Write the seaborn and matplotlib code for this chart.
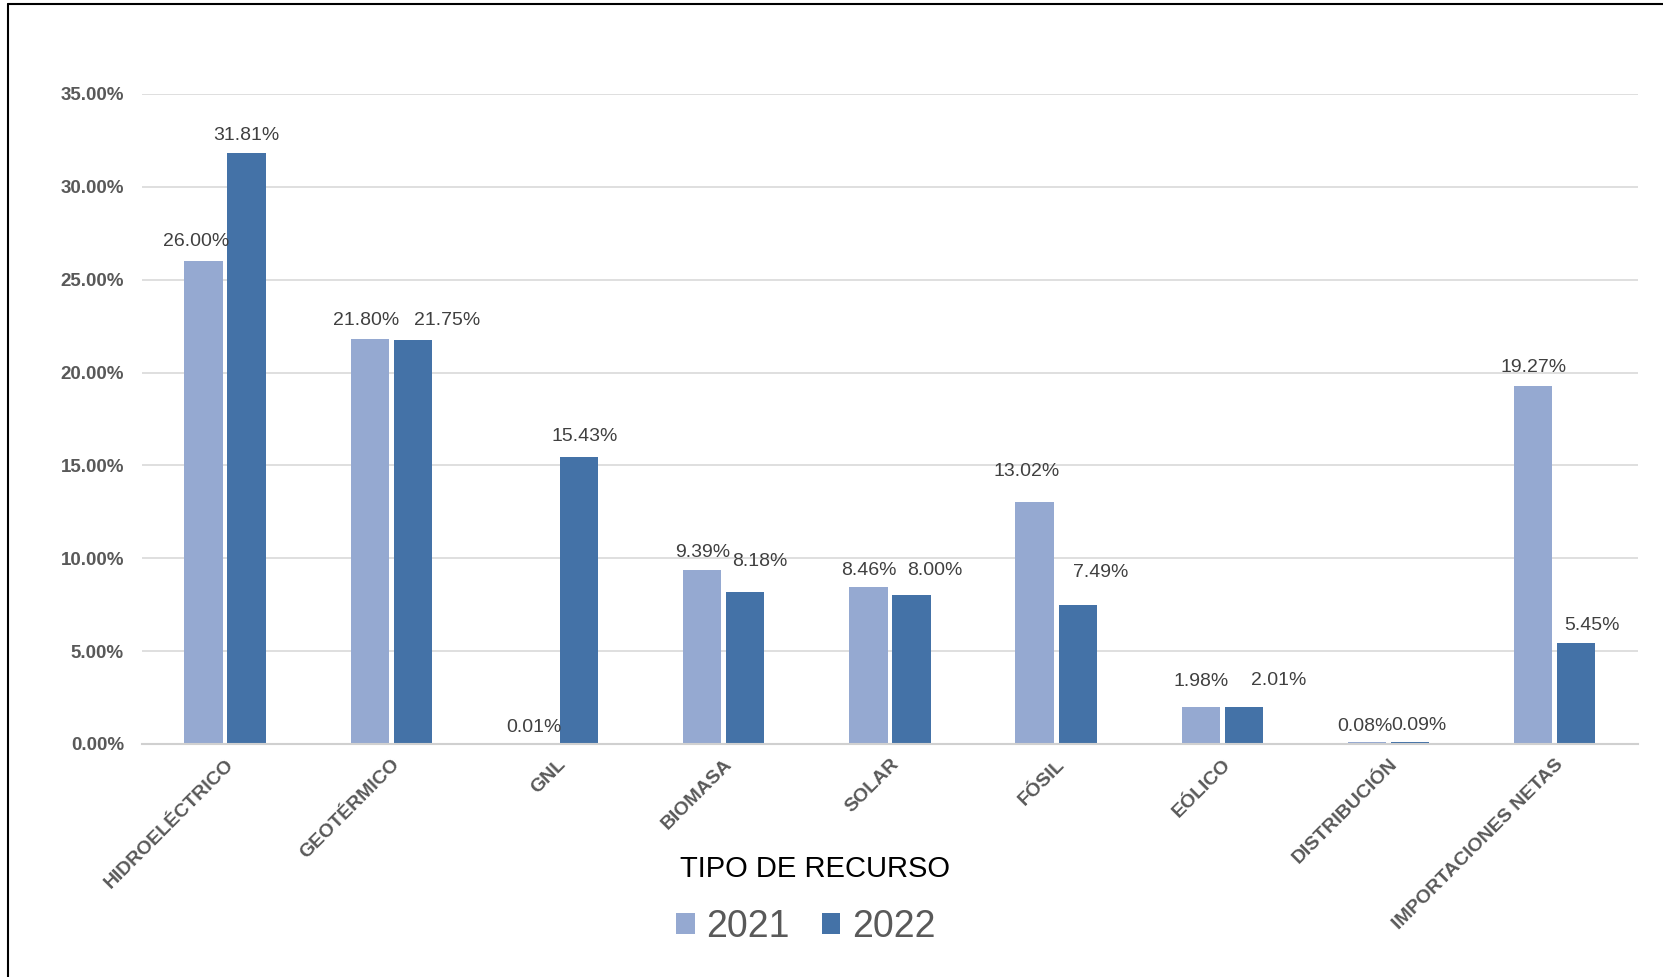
import matplotlib
matplotlib.use("Agg")
import matplotlib.pyplot as plt
import matplotlib.patches as mpatches
import matplotlib.lines as mlines
import seaborn as sns
import pandas as pd

categories = ["HIDROELÉCTRICO", "GEOTÉRMICO", "GNL", "BIOMASA", "SOLAR",
              "FÓSIL", "EÓLICO", "DISTRIBUCIÓN", "IMPORTACIONES NETAS"]
values_2021 = [26.00, 21.80, 0.01, 9.39, 8.46, 13.02, 1.98, 0.08, 19.27]
values_2022 = [31.81, 21.75, 15.43, 8.18, 8.00, 7.49, 2.01, 0.09, 5.45]
series = ["2021", "2022"]
yticks = [0, 5, 10, 15, 20, 25, 30, 35]
colors = {"2021": "#95A9D1", "2022": "#4472A7"}

# manual label nudges (layout only), in points
nudge_x = {"2021": [-7, -3, -2, 0, 0, -8, 0, -2, 0],
           "2022": [0, 32, 5, 14, 22, 22, 33, 8, 15]}
nudge_y = {"2021": [1, 0, -2, -1, -2, 12, 7, -2, 0],
           "2022": [0, 1, 3, 12, 6, 13, 7, -1, -1]}

df = pd.DataFrame({
    "cat": categories * 2,
    "year": ["2021"] * len(categories) + ["2022"] * len(categories),
    "val": values_2021 + values_2022,
})

sns.set_theme(style="white")
plt.rcParams["font.family"] = ["Liberation Sans", "DejaVu Sans"]

fig = plt.figure(figsize=(16.63, 9.77), dpi=100)
ax = fig.add_axes([0.0854, 0.2385, 0.8995, 0.6653])

sns.barplot(data=df, x="cat", y="val", hue="year", order=categories,
            hue_order=series, palette=colors, width=0.518, gap=0.11,
            saturation=1, ax=ax, legend=False, edgecolor="none")

ax.set_ylim(0, 35)
ax.set_xlim(-0.5, len(categories) - 0.5)
ax.set_yticks(yticks)
ax.set_yticklabels([f"{t:.2f}%" for t in yticks], fontsize=13.5,
                   fontweight="bold", color="#595959")
ax.grid(axis="y", color="#d9d9d9", linewidth=1.2)
ax.set_axisbelow(True)
for s in ["top", "right", "left"]:
    ax.spines[s].set_visible(False)
ax.spines["bottom"].set_color("#d0d0d0")
ax.spines["bottom"].set_linewidth(1.5)
ax.tick_params(axis="y", length=0, pad=13)
ax.tick_params(axis="x", length=0, pad=8.5)

ax.set_xticks(range(len(categories)))
ax.set_xticklabels(categories, rotation=45, ha="right", va="top",
                   rotation_mode="anchor", fontsize=14, fontweight="bold",
                   color="#595959")

ax.set_xlabel("")
ax.set_ylabel("")

k = 0.766
for cont, s, vals in zip(ax.containers, series, [values_2021, values_2022]):
    for i, (p, v) in enumerate(zip(cont.patches, vals)):
        cx = p.get_x() + p.get_width() / 2
        ax.annotate(f"{v:.2f}%", xy=(cx, p.get_height()),
                    xytext=(nudge_x[s][i] * k, 7 + nudge_y[s][i] * k),
                    textcoords="offset points", ha="center", va="bottom",
                    fontsize=14, color="#404040")

fig.text(0.490, 0.1105, "TIPO DE RECURSO", ha="center", va="center",
         fontsize=21, color="#000000")

handles = [mpatches.Patch(facecolor=colors[s], edgecolor="none", label=s)
           for s in series]
fig.legend(handles=handles, loc="center", bbox_to_anchor=(0.4845, 0.0515),
           ncol=2, frameon=False, fontsize=27, handlelength=0.5,
           handleheight=0.5, handletextpad=0.3, columnspacing=0.85,
           labelcolor="#595959")

fig.add_artist(mlines.Line2D([8 / 1663, 8 / 1663], [0, 1 - 4 / 977],
                             transform=fig.transFigure, color="black", lw=1.5))
fig.add_artist(mlines.Line2D([8 / 1663, 1], [1 - 4 / 977, 1 - 4 / 977],
                             transform=fig.transFigure, color="black", lw=1.5))

fig.savefig("out.png", dpi=100)
